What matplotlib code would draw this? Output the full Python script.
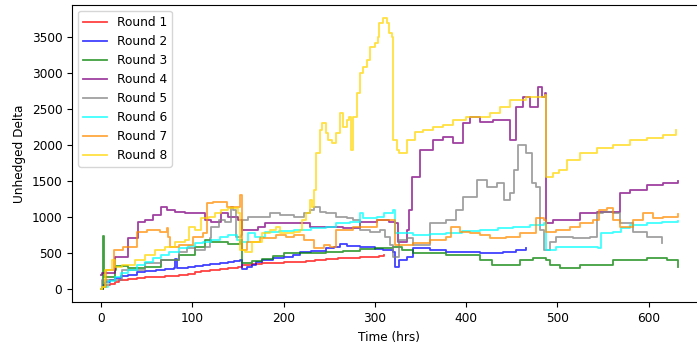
import matplotlib
matplotlib.use('Agg')
import matplotlib.pyplot as plt

# values (time in hrs, unhedged delta)
t1 = [0, 2, 5, 10, 15, 20, 30, 40, 48, 60, 70, 85, 95, 103, 110, 120, 130, 139, 150, 154,
      165, 176, 190, 200, 210, 225, 235, 247, 260, 270, 284, 295, 305, 310]
v1 = [0, 30, 50, 75, 100, 125, 140, 150, 160, 167, 180, 199, 205, 240, 250, 260, 275, 287, 300, 334,
      345, 357, 365, 370, 380, 395, 405, 413, 425, 430, 440, 450, 460, 468]

t2 = [0, 2, 5, 10, 15, 22, 30, 40, 48, 60, 70, 80, 81, 83, 95, 103, 112, 120, 130, 139,
      146, 152, 154, 160, 165, 170, 176, 188, 200, 210, 218, 230, 247, 255, 262, 270, 284, 300,
      309, 320, 322, 327, 335, 342, 360, 378, 395, 415, 430, 440, 455, 466]
v2 = [0, 60, 100, 130, 150, 180, 200, 230, 254, 270, 280, 288, 413, 290, 305, 320, 335, 350, 365, 380,
      395, 403, 274, 300, 340, 380, 403, 430, 450, 473, 518, 530, 565, 590, 625, 600, 588, 560,
      542, 518, 310, 400, 449, 570, 540, 518, 510, 496, 505, 520, 540, 565]

t3 = [0, 2, 2.5, 3, 15, 16, 30, 48, 66, 85, 103, 114, 121, 139, 152, 155, 165, 176, 188, 200,
      220, 247, 265, 284, 300, 320, 330, 342, 378, 400, 415, 428, 459, 473, 488, 492, 503, 525,
      561, 598, 620, 632]
v3 = [0, 200, 730, 171, 260, 320, 288, 310, 403, 473, 588, 681, 657, 625, 681, 366, 390, 413, 460, 496,
      505, 518, 535, 551, 570, 588, 540, 496, 473, 473, 403, 334, 403, 427, 403, 334, 288, 334,
      403, 427, 403, 310]

t4 = [0, 1, 15, 30, 41, 48, 57, 66, 72, 81, 92, 103, 114, 121, 132, 139, 150, 154, 161, 172,
      180, 192, 211, 229, 247, 265, 284, 302, 316, 322, 325, 335, 338, 341, 349, 364, 375, 386,
      397, 404, 415, 430, 444, 448, 455, 462, 470, 479, 483, 486, 487, 495, 525, 543, 561, 569,
      580, 598, 616, 632]
v4 = [200, 218, 449, 705, 936, 959, 1029, 1144, 1098, 1075, 1052, 1052, 959, 936, 1052, 1005, 959, 820, 820, 866,
      913, 922, 913, 866, 866, 843, 936, 959, 936, 913, 657, 820, 1098, 1561, 1932, 2071, 2117, 2029,
      2307, 2395, 2326, 2349, 2349, 2071, 2534, 2673, 2534, 2812, 2673, 2720, 913, 959, 1052, 1075, 1075, 1330,
      1376, 1446, 1469, 1505]

t5 = [0, 1, 23, 48, 66, 85, 94, 103, 114, 120, 121, 129, 136, 142, 145, 148, 153, 155, 161, 176,
      185, 196, 211, 222, 229, 233, 240, 247, 258, 269, 276, 284, 295, 306, 311, 317, 320, 327,
      335, 342, 360, 378, 389, 397, 412, 423, 434, 441, 448, 453, 457, 466, 472, 477, 481, 485,
      492, 499, 517, 536, 543, 550, 561, 569, 583, 598, 615]
v5 = [0, 125, 264, 357, 403, 518, 565, 542, 588, 705, 866, 959, 936, 1144, 1098, 727, 750, 959, 1005, 1005,
      1052, 1029, 1005, 1052, 1098, 1144, 1075, 1052, 1005, 982, 959, 820, 797, 820, 727, 612, 449, 681,
      705, 612, 913, 959, 1098, 1283, 1515, 1422, 1469, 1237, 1330, 1654, 2002, 1886, 1469, 1422, 820, 542,
      657, 727, 705, 727, 1052, 1075, 1052, 913, 797, 727, 635]

t6 = [0, 1, 8, 15, 22, 30, 40, 48, 57, 66, 75, 85, 95, 103, 112, 121, 130, 139, 149, 155,
      161, 169, 180, 195, 211, 230, 247, 258, 273, 284, 287, 302, 310, 320, 322, 342, 360, 378,
      395, 415, 435, 451, 470, 485, 487, 499, 525, 545, 548, 561, 570, 579, 598, 615, 632]
v6 = [0, 32, 110, 171, 220, 264, 330, 380, 430, 473, 520, 565, 600, 635, 660, 681, 720, 750, 681, 660,
      774, 727, 797, 810, 820, 845, 866, 913, 936, 1052, 982, 1005, 1050, 1098, 774, 750, 760, 774,
      800, 820, 845, 866, 890, 913, 542, 588, 588, 565, 774, 797, 850, 890, 913, 930, 950]

t7 = [0, 1, 6, 14, 24, 39, 50, 65, 72, 74, 76, 86, 101, 112, 116, 123, 138, 152, 154, 160,
      174, 192, 203, 211, 222, 233, 244, 251, 258, 276, 302, 320, 322, 342, 360, 378, 384, 393,
      404, 415, 426, 444, 459, 477, 485, 488, 499, 514, 525, 539, 546, 554, 561, 569, 583, 594,
      605, 616, 632]
v7 = [0, 32, 264, 542, 588, 797, 820, 797, 843, 727, 588, 612, 727, 774, 1191, 1214, 1144, 1307, 542, 657,
      705, 750, 727, 750, 681, 565, 612, 588, 820, 866, 959, 959, 612, 635, 681, 727, 866, 797,
      774, 750, 705, 727, 774, 982, 959, 797, 820, 866, 913, 959, 1098, 1122, 959, 866, 959, 1052,
      982, 1005, 1042]

t8 = [0, 1, 4, 12, 15, 23, 37, 48, 59, 70, 81, 92, 97, 103, 110, 118, 125, 132, 139, 150,
      152, 158, 165, 176, 185, 192, 196, 211, 218, 220, 225, 229, 231, 233, 236, 240, 242, 246,
      249, 253, 258, 262, 265, 269, 272, 274, 276, 280, 284, 287, 291, 295, 300, 303, 305, 309,
      313, 316, 319, 320, 324, 327, 335, 344, 353, 364, 375, 386, 400, 415, 426, 437, 448, 466,
      486, 488, 495, 502, 510, 525, 543, 561, 579, 598, 616, 630]
v8 = [0, 32, 264, 403, 310, 334, 403, 473, 542, 588, 657, 681, 866, 820, 982, 1005, 1052, 1098, 1122, 1052,
      542, 518, 657, 774, 820, 866, 774, 797, 820, 959, 1052, 1237, 1144, 1376, 1886, 2210, 2303, 2164,
      2071, 2025, 2164, 2442, 2256, 2349, 2396, 1932, 2396, 2720, 2998, 3090, 3183, 3368, 3415, 3507, 3693, 3763,
      3693, 3554, 3507, 2071, 1932, 1886, 2071, 2186, 2210, 2256, 2280, 2349, 2396, 2396, 2442, 2534, 2627, 2673,
      2697, 1561, 1608, 1654, 1793, 1886, 1956, 2002, 2071, 2095, 2141, 2210]

series = [(t1, v1), (t2, v2), (t3, v3), (t4, v4), (t5, v5), (t6, v6), (t7, v7), (t8, v8)]
labels = ['Round %d' % (i + 1) for i in range(8)]
colors = ['red', 'blue', 'green', 'purple', 'gray', 'cyan', 'darkorange', 'gold']

plt.rcParams['font.size'] = 8.7

fig = plt.figure(figsize=(6.97, 3.45), dpi=100)
# axes runs past the right edge, the reference is cropped there
ax = fig.add_axes([0.1034, 0.1232, 0.9106, 0.8626])

for (t, v), lab, c in zip(series, labels, colors):
    ax.plot(t, v, color=c, alpha=0.75, lw=1.3, drawstyle='steps-post', label=lab)

ax.set_xlabel('Time (hrs)')
ax.set_ylabel('Unhedged Delta')
ax.set_xticks(range(0, 700, 100))
ax.set_yticks(range(0, 4000, 500))
ax.legend(loc='upper left')

fig.savefig('out.png', dpi=100)
